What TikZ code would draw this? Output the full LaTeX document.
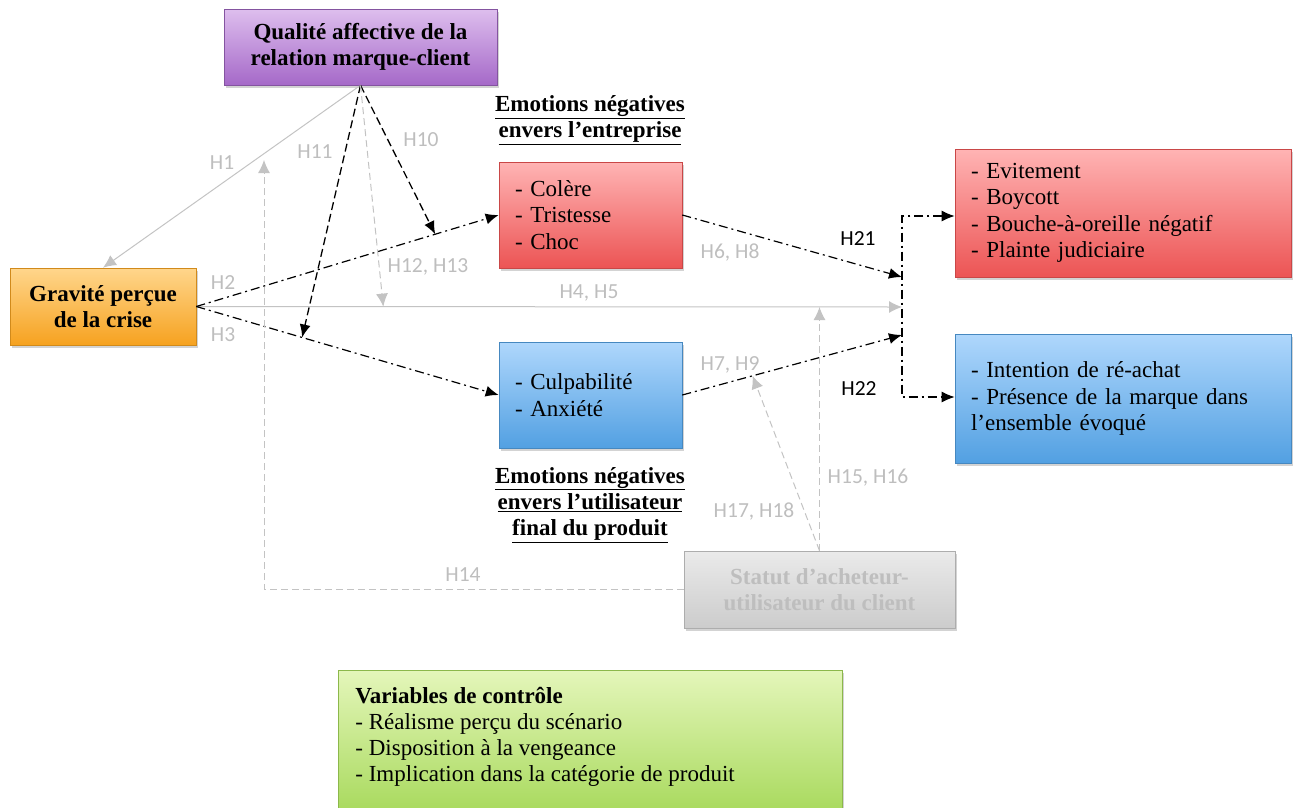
\documentclass[tikz,border=0pt]{standalone}
\usepackage{fontspec}
\setmainfont{Liberation Serif}
\newfontfamily\hypfont{Carlito}
\usetikzlibrary{arrows.meta,calc,shadows}

\begin{document}
\begin{tikzpicture}[x=1pt,y=-1pt,
  box/.style={rectangle,line width=0.6pt,inner xsep=16pt,inner ysep=3pt,
    font=\fontsize{23}{26.4}\selectfont,
    drop shadow={shadow xshift=1.5pt,shadow yshift=-2.5pt,opacity=0.35}},
  heading/.style={align=center,inner sep=0pt,font=\fontsize{23}{26.4}\selectfont\bfseries},
  hyp/.style={text=hypGrey,inner sep=0pt,font=\hypfont\fontsize{21.5}{22}\selectfont},
  hypDark/.style={hyp,text=black},
  greyArrow/.style={draw=lineGrey,line width=1pt,-{Latex[length=13pt,width=12pt]}},
  greyDash/.style={greyArrow,dash pattern=on 7pt off 4pt},
  blackDash/.style={draw=black,line width=1.3pt,dash pattern=on 8pt off 4pt,-{Latex[length=13pt,width=11pt]}},
  dashDot/.style={draw=black,line width=1.2pt,dash pattern=on 9pt off 4pt on 2pt off 4pt,-{Latex[length=13pt,width=11pt]}}]
\definecolor{hypGrey}{RGB}{190,190,190}
\definecolor{lineGrey}{RGB}{195,195,195}
\definecolor{purpleTop}{RGB}{222,190,238}
\definecolor{purpleBot}{RGB}{165,105,200}
\definecolor{orangeTop}{RGB}{255,214,140}
\definecolor{orangeBot}{RGB}{246,162,32}
\definecolor{redTop}{RGB}{255,180,180}
\definecolor{redBot}{RGB}{236,84,84}
\definecolor{blueTop}{RGB}{175,215,252}
\definecolor{blueBot}{RGB}{82,160,226}
\definecolor{greyTop}{RGB}{234,234,234}
\definecolor{greyBot}{RGB}{204,204,204}
\definecolor{greenTop}{RGB}{228,246,186}
\definecolor{greenBot}{RGB}{165,216,88}
\useasboundingbox (0,0) rectangle (1297,807);

% constructs
\node[box,top color=purpleTop,bottom color=purpleBot,draw=purpleBot!80!black,minimum width=273pt,minimum height=76pt,align=center,font=\fontsize{23}{26}\selectfont\bfseries] (qual) at (360.5,47) {Qualité affective de la\\relation marque-client};

\node[box,top color=orangeTop,bottom color=orangeBot,draw=orangeBot!85!black,minimum width=186pt,minimum height=77pt,inner xsep=4pt,align=center,font=\fontsize{23}{26}\selectfont\bfseries] (grav) at (103,306.5) {Gravité perçue\\de la crise};

\node[box,top color=redTop,bottom color=redBot,draw=redBot!85!black,text width=151pt,minimum height=106pt,align=left] (emoEnt) at (590.5,215) {- Colère\\- Tristesse\\- Choc};

\node[box,top color=blueTop,bottom color=blueBot,draw=blueBot!85!black,text width=151pt,minimum height=106pt,align=left] (emoUtil) at (590.5,395) {- Culpabilité\\- Anxiété};

\node[box,top color=redTop,bottom color=redBot,draw=redBot!85!black,text width=304pt,minimum height=128pt,align=left] (outNeg) at (1123,213) {- Evitement\\- Boycott\\- Bouche-à-oreille négatif\\- Plainte judiciaire};

\node[box,top color=blueTop,bottom color=blueBot,draw=blueBot!85!black,text width=304pt,minimum height=129pt,align=left] (outPos) at (1123,398.5) {- Intention de ré-achat\\- Présence de la marque dans\\l’ensemble évoqué};

\node[box,top color=greyTop,bottom color=greyBot,draw=greyBot!85!black,minimum width=271pt,minimum height=77pt,inner xsep=4pt,align=center,text=hypGrey,font=\fontsize{23}{26}\selectfont\bfseries] (statut) at (819.5,589.5) {Statut d’acheteur-\\utilisateur du client};

\node[box,top color=greenTop,bottom color=greenBot,draw=greenBot!85!black,minimum width=504pt,minimum height=150pt,anchor=north] (ctrl) at (590.5,670) {};
\node[anchor=north west,inner sep=0pt,align=left,font=\fontsize{23}{26}\selectfont] (ctrlText) at ($(ctrl.north west)+(17,17)$) {\textbf{Variables de contrôle}\\- Réalisme perçu du scénario\\- Disposition à la vengeance\\- Implication dans la catégorie de produit};

% headings
\node[heading] (headEnt) at (590,120) {\underline{Emotions négatives}\\\underline{envers l’entreprise}};
\node[heading] (headUtil) at (590,505) {\underline{Emotions négatives}\\\underline{envers l’utilisateur}\\\underline{final du produit}};

% junction points
\coordinate (hub) at (902,307);
\coordinate (hubA) at (902,277);
\coordinate (hubB) at (902,335);
\coordinate (hubTop) at (902,216);
\coordinate (hubBot) at (902,397);
\coordinate (h14Top) at (264,160);

% main paths
\draw[greyArrow] (qual.south) -- (grav.north);
\draw[greyArrow] (grav.east) -- (hub);
\draw[dashDot] (grav.east) -- (emoEnt.west);
\draw[dashDot] (grav.east) -- (emoUtil.west);
\draw[dashDot] (emoEnt.east) -- (hubA);
\draw[dashDot] (emoUtil.east) -- (hubB);
\draw[dashDot,{Latex[length=13pt,width=11pt]}-{Latex[length=13pt,width=11pt]}] (outNeg.west |- hubTop) -- (hubTop) -- (hubBot) -- (outPos.west |- hubBot);

% moderators
\draw[blackDash] (qual.south) -- ($(grav.east)!0.79!(emoEnt.west)$);
\draw[blackDash] (qual.south) -- ($(grav.east)!0.35!(emoUtil.west)$);
\draw[greyDash] (qual.south) -- ($(grav.east)!0.265!(hub)$);
\draw[greyDash] (statut.north) -- (statut.north |- hub);
\draw[greyDash] (statut.north) -- ($(emoUtil.east)!0.32!(hubB)$);
\draw[greyDash] (statut.west) -| (h14Top);

% hypotheses
\node[hyp] (lH1) at (222,163) {H1};
\node[hyp] (lH11) at (315,152) {H11};
\node[hyp] (lH10) at (421,140) {H10};
\node[hyp] (lH2) at (223,283) {H2};
\node[hyp] (lH3) at (223,335) {H3};
\node[hyp] (lH12) at (428,267) {H12, H13};
\node[hyp] (lH4) at (589,293) {H4, H5};
\node[hyp] (lH6) at (730,253) {H6, H8};
\node[hyp] (lH7) at (730,365) {H7, H9};
\node[hypDark] (lH21) at (858,239) {H21};
\node[hypDark] (lH22) at (859,389) {H22};
\node[hyp] (lH15) at (868,478) {H15, H16};
\node[hyp] (lH17) at (754,512) {H17, H18};
\node[hyp] (lH14) at (463,575) {H14};
\end{tikzpicture}
\end{document}
